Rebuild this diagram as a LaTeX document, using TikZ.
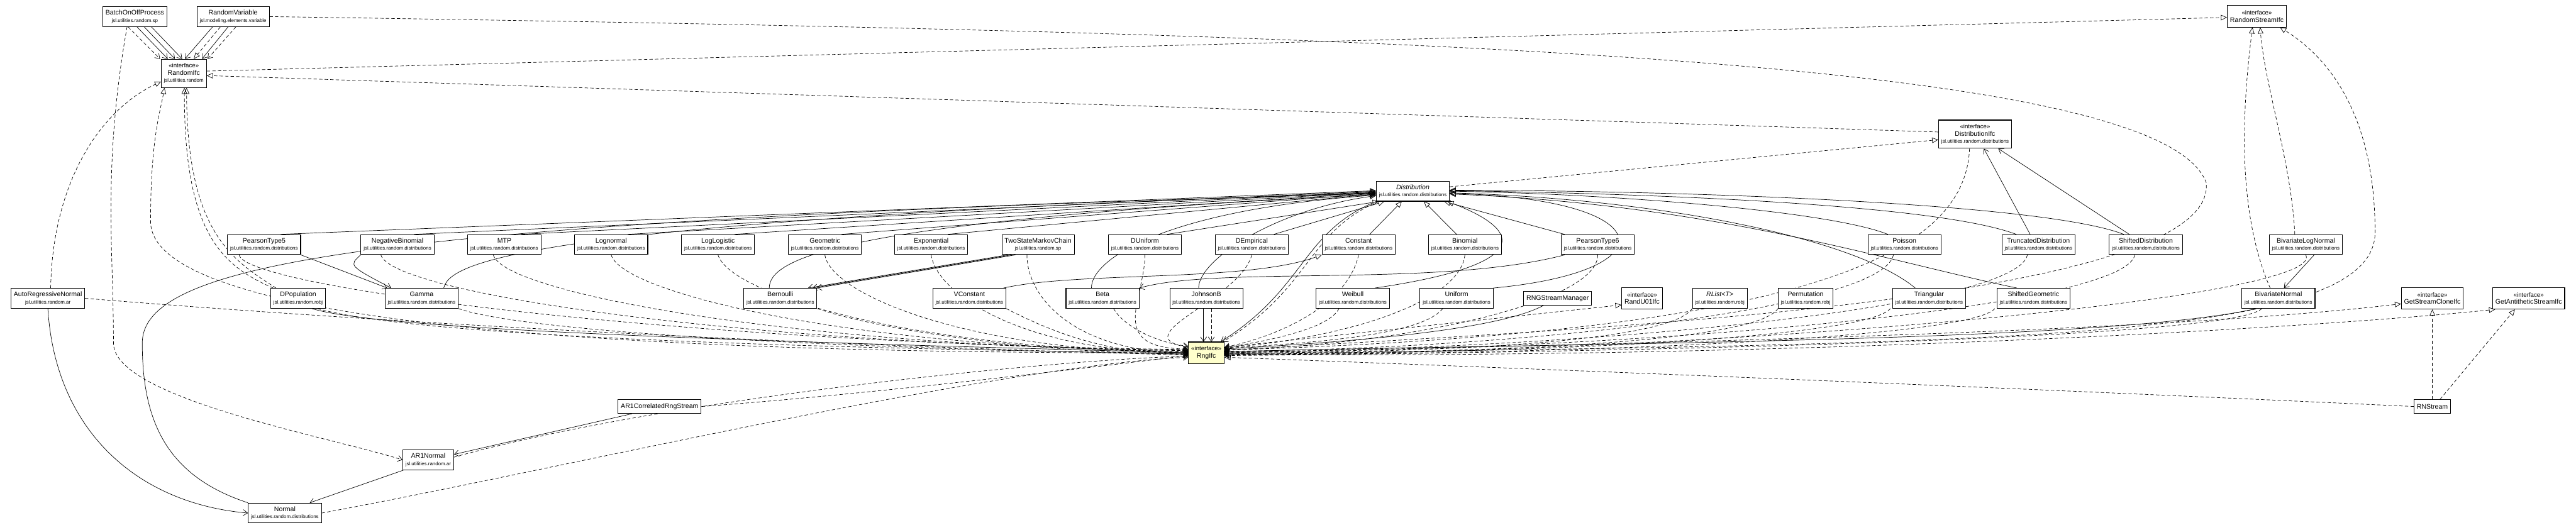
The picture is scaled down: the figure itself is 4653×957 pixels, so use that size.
\documentclass[tikz,border=0pt]{standalone}
\usepackage{fontspec}
\setmainfont{Liberation Sans}
\usepackage{tikz}
\usetikzlibrary{arrows.meta,backgrounds}
\definecolor{focus}{HTML}{FFFFCC}
\newcommand{\pkg}[1]{{\fontsize{9}{10}\selectfont #1}}
\newcommand{\ster}{{\fontsize{11}{12}\selectfont «interface»}}

\begin{document}
\begin{tikzpicture}[
    x=1pt, y=-1pt,
    cls/.style={draw, line width=1.2pt, fill=white, align=center, inner xsep=5pt, inner ysep=2pt, minimum height=36pt, font=\fontsize{12}{13}\selectfont},
    ifc/.style={cls, minimum height=39pt},
    ipkg/.style={cls, minimum height=51pt},
    gen/.style={-{Triangle[open, length=11pt, width=10pt]}, line width=.8pt},
    real/.style={gen, dash pattern=on 6pt off 4pt},
    dep/.style={-{Straight Barb[length=8pt, width=11pt]}, line width=.8pt, dash pattern=on 6pt off 4pt},
    assoc/.style={-{Straight Barb[length=8pt, width=11pt]}, line width=.8pt}
  ]
    \useasboundingbox (0,0) rectangle (4653,957);

    \node[cls] (bop) at (243.5,30) {BatchOnOffProcess\\\pkg{jsl.utilities.random.sp}};
    \node[cls] (rv) at (421,30) {RandomVariable\\\pkg{jsl.modeling.elements.variable}};
    \node[ipkg] (rifc) at (332,132.5) {\ster\\RandomIfc\\\pkg{jsl.utilities.random}};
    \node[ifc] (rsifc) at (4076.5,29.5) {\ster\\RandomStreamIfc};
    \node[ipkg] (difc) at (3567.5,242.5) {\ster\\DistributionIfc\\\pkg{jsl.utilities.random.distributions}};
    \node[cls] (dist) at (2552,345.5) {\textit{Distribution}\\\pkg{jsl.utilities.random.distributions}};

    \node[cls] (pt5) at (477,442) {PearsonType5\\\pkg{jsl.utilities.random.distributions}};
    \node[cls] (negbin) at (718,442) {NegativeBinomial\\\pkg{jsl.utilities.random.distributions}};
    \node[cls] (mtp) at (911,442) {MTP\\\pkg{jsl.utilities.random.distributions}};
    \node[cls] (lognorm) at (1104,442) {Lognormal\\\pkg{jsl.utilities.random.distributions}};
    \node[cls] (loglog) at (1297,442) {LogLogistic\\\pkg{jsl.utilities.random.distributions}};
    \node[cls] (geom) at (1490,442) {Geometric\\\pkg{jsl.utilities.random.distributions}};
    \node[cls] (expo) at (1682,442) {Exponential\\\pkg{jsl.utilities.random.distributions}};
    \node[cls] (twostate) at (1875,442) {TwoStateMarkovChain\\\pkg{jsl.utilities.random.sp}};
    \node[cls] (duni) at (2068,442) {DUniform\\\pkg{jsl.utilities.random.distributions}};
    \node[cls] (demp) at (2261,442) {DEmpirical\\\pkg{jsl.utilities.random.distributions}};
    \node[cls] (const) at (2454,442) {Constant\\\pkg{jsl.utilities.random.distributions}};
    \node[cls] (binom) at (2646,442) {Binomial\\\pkg{jsl.utilities.random.distributions}};
    \node[cls] (pt6) at (2886,442) {PearsonType6\\\pkg{jsl.utilities.random.distributions}};
    \node[cls] (poisson) at (3440,442) {Poisson\\\pkg{jsl.utilities.random.distributions}};
    \node[cls] (trunc) at (3682,442) {TruncatedDistribution\\\pkg{jsl.utilities.random.distributions}};
    \node[cls] (shifted) at (3876,442) {ShiftedDistribution\\\pkg{jsl.utilities.random.distributions}};
    \node[cls] (bilognorm) at (4165,442) {BivariateLogNormal\\\pkg{jsl.utilities.random.distributions}};

    \node[cls] (arn) at (86.5,539) {AutoRegressiveNormal\\\pkg{jsl.utilities.random.ar}};
    \node[cls] (dpop) at (538.5,539) {DPopulation\\\pkg{jsl.utilities.random.robj}};
    \node[cls] (gamma) at (761.5,539) {Gamma\\\pkg{jsl.utilities.random.distributions}};
    \node[cls] (bern) at (1409.5,539) {Bernoulli\\\pkg{jsl.utilities.random.distributions}};
    \node[cls] (vconst) at (1751,539) {VConstant\\\pkg{jsl.utilities.random.distributions}};
    \node[cls] (beta) at (1991.5,539) {Beta\\\pkg{jsl.utilities.random.distributions}};
    \node[cls] (johnson) at (2179,539) {JohnsonB\\\pkg{jsl.utilities.random.distributions}};
    \node[cls] (weibull) at (2443.5,539) {Weibull\\\pkg{jsl.utilities.random.distributions}};
    \node[cls] (unif) at (2631,539) {Uniform\\\pkg{jsl.utilities.random.distributions}};
    \node[cls, minimum height=24pt] (rngsm) at (2813.5,539) {RNGStreamManager};
    \node[ifc] (randu) at (2966,539) {\ster\\RandU01Ifc};
    \node[cls] (rlist) at (3106.5,539) {\textit{RList<T>}\\\pkg{jsl.utilities.random.robj}};
    \node[cls] (perm) at (3261.5,539) {Permutation\\\pkg{jsl.utilities.random.robj}};
    \node[cls] (tri) at (3484.5,539) {Triangular\\\pkg{jsl.utilities.random.distributions}};
    \node[cls] (shgeom) at (3673,539) {ShiftedGeometric\\\pkg{jsl.utilities.random.distributions}};
    \node[cls] (binorm) at (4115.5,539) {BivariateNormal\\\pkg{jsl.utilities.random.distributions}};
    \node[ifc] (clone) at (4393.5,539) {\ster\\GetStreamCloneIfc};
    \node[ifc] (anti) at (4567.5,539) {\ster\\GetAntitheticStreamIfc};

    \node[ifc, fill=focus] (rng) at (2179,637.5) {\ster\\RngIfc};
    \node[cls, minimum height=25pt] (ar1c) at (1191.5,734.5) {AR1CorrelatedRngStream};
    \node[cls] (ar1n) at (773.5,831) {AR1Normal\\\pkg{jsl.utilities.random.ar}};
    \node[cls] (normal) at (514.5,927) {Normal\\\pkg{jsl.utilities.random.distributions}};
    \node[cls, minimum height=25pt] (rnstream) at (4393.5,734.5) {RNStream};

    \begin{scope}[on background layer]
    \draw[dep] ([xshift=-12pt]bop.south) -- ([xshift=-43pt]rifc.north);
    \draw[assoc] ([xshift=4pt]bop.south) -- ([xshift=-29pt]rifc.north);
    \draw[assoc] ([xshift=17pt]bop.south) -- ([xshift=-16pt]rifc.north);
    \draw[assoc] ([xshift=30pt]bop.south) -- ([xshift=-3pt]rifc.north);
    \draw[assoc] ([xshift=-37pt]rv.south) -- ([xshift=2pt]rifc.north);
    \draw[real] ([xshift=-23pt]rv.south) -- ([xshift=18pt]rifc.north);
    \draw[assoc] ([xshift=-9pt]rv.south) -- ([xshift=33pt]rifc.north);
    \draw[dep] ([xshift=5pt]rv.south) -- ([xshift=43pt]rifc.north);
    \draw[dep] ([xshift=-14pt]bop.south) .. controls (185,300) and (205,450) .. (205,620) .. controls (205,720) and (600,790) .. (ar1n.west);
    \draw[real] ([xshift=5pt]arn.north) .. controls (95,330) and (180,200) .. ([yshift=-15pt]rifc.west);
    \draw[real] ([xshift=-45pt]dpop.north) .. controls (400,480) and (333,420) .. ([xshift=1pt]rifc.south);
    \draw[real] ([xshift=-40pt]dpop.north) .. controls (420,470) and (338,420) .. ([xshift=5pt]rifc.south);
    \draw[real] (rng.west) .. controls (900,640) and (272,560) .. (272,400) .. controls (272,250) and (290,200) .. ([xshift=-35pt]rifc.south);

    \draw[real] ([yshift=4pt]rifc.east) -- ([yshift=-2pt]rsifc.west);
    \draw[real] ([yshift=4pt]difc.west) -- ([yshift=-4pt]rifc.east);
    \draw[real] ([yshift=8pt]dist.east) -- ([yshift=-10pt]difc.west);
    \draw[assoc] ([xshift=-15pt]trunc.north) -- ([xshift=16pt]difc.south);
    \draw[assoc] ([xshift=-30pt]shifted.north) -- ([xshift=42pt]difc.south);
    \draw[dep] (rv.east) .. controls (2500,60) and (3900,100) .. (3985,330) .. controls (4010,560) and (2700,600) .. ([yshift=4pt]rng.east);

    \draw[real] ([xshift=-15pt]binorm.north) .. controls (4040,380) and (4050,200) .. ([xshift=-8pt]rsifc.south);
    \draw[real] ([xshift=-20pt]bilognorm.north) .. controls (4140,300) and (4090,150) .. ([xshift=6pt]rsifc.south);
    \draw[real] ([yshift=-2pt]rng.east) .. controls (3600,620) and (4290,620) .. (4290,420) .. controls (4290,200) and (4200,100) .. ([xshift=-12pt]rsifc.south east);
    \draw[real] (rnstream.north) -- (clone.south);
    \draw[real] ([xshift=14pt]rnstream.north) -- ([xshift=-25pt]anti.south);
    \draw[real] (rnstream.west) .. controls (3400,690) and (2600,660) .. ([yshift=-8pt]rng.east);
    \draw[real] ([yshift=10pt]rng.east) -- ([yshift=-12pt]randu.west);
    \draw[real] (rng.east) .. controls (3000,620) and (3900,600) .. ([yshift=-10pt]clone.west);
    \draw[real] ([yshift=-2pt]rng.east) .. controls (3100,650) and (4100,600) .. ([xshift=5pt]anti.south west);
    \draw[assoc] ([xshift=-25pt]rngsm.south) .. controls (2700,600) and (2400,620) .. ([yshift=7pt]rng.east);

    \draw[assoc] (dist.south west) .. controls (2350,420) and (2360,520) .. ([xshift=26pt]rng.north);
    \draw[dep] ([xshift=4pt]dist.south west) .. controls (2360,420) and (2370,520) .. ([xshift=30pt]rng.north);
    \draw[dep] ([xshift=-10pt]difc.south) .. controls (3550,450) and (3300,600) .. ([yshift=5pt]rng.east);

    \draw[gen] ([xshift=30pt]pt5.north) -- ([yshift=1pt]dist.west);
    \draw[gen] ([xshift=30pt]negbin.north) -- ([yshift=0pt]dist.west);
    \draw[gen] ([xshift=30pt]mtp.north) -- ([yshift=-1pt]dist.west);
    \draw[gen] ([xshift=30pt]lognorm.north) -- ([yshift=-2pt]dist.west);
    \draw[gen] ([xshift=30pt]loglog.north) -- ([yshift=-3pt]dist.west);
    \draw[gen] ([xshift=30pt]geom.north) -- ([yshift=-4pt]dist.west);
    \draw[gen] ([xshift=30pt]expo.north) -- ([yshift=-5pt]dist.west);
    \draw[gen] ([xshift=40pt]gamma.north) .. controls (812,480) and (900,400) .. ([yshift=-3pt]dist.west);
    \draw[gen] (normal.north west) .. controls (300,860) and (257,760) .. (257,620) .. controls (257,470) and (700,400) .. ([yshift=-4pt]dist.west);
    \draw[gen] ([xshift=-20pt]bern.north) .. controls (1390,470) and (1500,400) .. ([yshift=-6pt]dist.west);
    \draw[gen] ([xshift=-20pt]beta.north) .. controls (1970,470) and (2100,380) .. ([yshift=-7pt]dist.west);
    \draw[gen] ([xshift=-14pt]johnson.north) .. controls (2165,470) and (2300,380) .. ([yshift=-8pt]dist.west);
    \draw[gen] ([xshift=40pt]duni.north) -- ([xshift=5pt]dist.south west);
    \draw[gen] ([xshift=40pt]demp.north) -- ([xshift=15pt]dist.south west);
    \draw[gen] ([xshift=20pt]const.north) -- ([xshift=-20pt]dist.south);
    \draw[gen] ([xshift=-15pt]binom.north) -- ([xshift=20pt]dist.south);
    \draw[gen] ([xshift=-60pt]pt6.north) -- ([xshift=-10pt]dist.south east);
    \draw[gen] ([xshift=40pt]weibull.north) .. controls (2760,480) and (2760,420) .. ([xshift=-4pt]dist.south east);
    \draw[gen] (unif.north east) .. controls (3020,490) and (3000,360) .. ([yshift=-4pt]dist.east);
    \draw[gen] ([xshift=-30pt]poisson.north) .. controls (3300,380) and (2900,350) .. (dist.east);
    \draw[gen] ([xshift=-40pt]trunc.north) .. controls (3500,370) and (3000,350) .. ([yshift=1pt]dist.east);
    \draw[gen] ([xshift=-40pt]shifted.north) .. controls (3700,370) and (3100,345) .. ([yshift=2pt]dist.east);
    \draw[gen] ([xshift=-25pt]tri.north) .. controls (3350,430) and (3000,360) .. ([yshift=-3pt]dist.east);
    \draw[gen] ([xshift=-30pt]shgeom.north) .. controls (3400,470) and (3100,370) .. ([yshift=-5pt]dist.east);
    \draw[gen] ([xshift=-5pt]vconst.north east) .. controls (1950,490) and (2250,510) .. (const.south west);

    \draw[assoc] (pt5.south east) -- ([xshift=-62pt]gamma.north);
    \draw[assoc] (negbin.south west) .. controls (630,480) .. ([xshift=-55pt]gamma.north);
    \draw[assoc] ([xshift=-55pt]twostate.south) -- ([xshift=50pt]bern.north);
    \draw[assoc] ([xshift=-48pt]twostate.south) -- ([xshift=58pt]bern.north);
    \draw[assoc] ([xshift=-41pt]twostate.south) -- ([xshift=66pt]bern.north);
    \draw[assoc] ([xshift=-60pt]pt6.south) .. controls (2600,520) and (2200,480) .. (beta.north east);
    \draw[assoc] ([xshift=15pt]bilognorm.south) -- ([xshift=10pt]binorm.north);
    \draw[assoc] ([xshift=-50pt]ar1c.south) -- ([yshift=10pt]ar1n.east);
    \draw[assoc] ([xshift=-45pt]ar1n.south) -- ([xshift=45pt]normal.north);
    \draw[assoc] (arn.south) .. controls (100,780) and (250,910) .. (normal.west);
    \draw[assoc] ([xshift=-5pt]johnson.south) -- ([xshift=-5pt]rng.north);
    \draw[dep] ([xshift=9pt]johnson.south) -- ([xshift=9pt]rng.north);
    \draw[assoc] ([xshift=25pt]dpop.south) .. controls (700,600) and (1500,620) .. (rng.west);
    \draw[assoc] ([xshift=-40pt]binorm.south) .. controls (3800,620) and (2800,620) .. ([yshift=2pt]rng.east);

    \draw[dep] ([xshift=-45pt]pt5.south) .. controls +(10,60) and +(-900,-10) .. ([yshift=6pt]rng.west);
    \draw[dep] ([xshift=-30pt]negbin.south) .. controls +(20,70) and +(-800,-8) .. ([yshift=5pt]rng.west);
    \draw[dep] ([xshift=-20pt]mtp.south) .. controls +(20,70) and +(-700,-6) .. ([yshift=4pt]rng.west);
    \draw[dep] (lognorm.south) .. controls +(20,70) and +(-600,-4) .. ([yshift=3pt]rng.west);
    \draw[dep] (loglog.south) .. controls +(20,70) and +(-500,-2) .. ([yshift=2pt]rng.west);
    \draw[dep] (geom.south) .. controls +(10,70) and +(-400,0) .. ([yshift=1pt]rng.west);
    \draw[dep] (expo.south) .. controls +(10,70) and +(-300,0) .. (rng.west);
    \draw[dep] ([xshift=-20pt]twostate.south) .. controls +(0,80) and +(-200,0) .. (rng.west);
    \draw[dep] (duni.south) .. controls +(0,80) and +(-150,0) .. ([yshift=7pt]rng.west);
    \draw[dep] (demp.south) .. controls +(-20,80) and +(-120,-20) .. ([yshift=10pt]rng.west);
    \draw[dep] ([xshift=35pt]dpop.south) .. controls (760,610) and (1500,630) .. ([yshift=-1pt]rng.west);
    \draw[dep] (gamma.south east) .. controls (950,600) and (1500,630) .. ([yshift=-2pt]rng.west);
    \draw[dep] (bern.south east) .. controls (1600,600) and (1900,640) .. ([yshift=-2pt]rng.west);
    \draw[dep] (vconst.south east) .. controls (1900,600) and (2000,640) .. ([yshift=-3pt]rng.west);
    \draw[dep] ([xshift=20pt]beta.south) .. controls (2030,590) and (2090,620) .. ([yshift=12pt]rng.west);
    \draw[dep] (arn.east) .. controls (900,600) and (1700,630) .. ([yshift=-4pt]rng.west);
    \draw[dep] (normal.east) .. controls (1000,850) and (1800,660) .. ([yshift=-8pt]rng.west);
    \draw[dep] ([yshift=5pt]ar1n.east) .. controls (1200,720) and (1900,650) .. ([yshift=-6pt]rng.west);
    \draw[dep] (ar1c.east) .. controls (1600,710) and (2000,660) .. ([yshift=-5pt]rng.west);

    \draw[dep] ([xshift=-25pt]weibull.south) .. controls +(-20,40) and +(60,-10) .. ([yshift=9pt]rng.east);
    \draw[dep] ([xshift=-25pt]unif.south) .. controls +(-40,50) and +(150,-10) .. ([yshift=8pt]rng.east);
    \draw[dep] (const.south) .. controls +(-20,90) and +(100,-20) .. ([yshift=10pt]rng.east);
    \draw[dep] (binom.south) .. controls +(-10,90) and +(200,-15) .. ([yshift=9pt]rng.east);
    \draw[dep] (pt6.south) .. controls +(0,90) and +(300,-5) .. ([yshift=6pt]rng.east);
    \draw[dep] ([xshift=-20pt]poisson.south) .. controls +(-20,100) and +(500,-2) .. ([yshift=3pt]rng.east);
    \draw[dep] ([xshift=-20pt]trunc.south) .. controls +(-20,100) and +(600,-2) .. ([yshift=2pt]rng.east);
    \draw[dep] ([xshift=-20pt]shifted.south) .. controls +(-20,100) and +(700,-2) .. ([yshift=1pt]rng.east);
    \draw[dep] ([xshift=-50pt]rlist.south) .. controls +(-40,60) and +(400,0) .. (rng.east);
    \draw[dep] ([xshift=-50pt]perm.south) .. controls +(-40,60) and +(500,0) .. ([yshift=-1pt]rng.east);
    \draw[dep] ([xshift=-70pt]tri.south) .. controls +(-40,50) and +(600,0) .. ([yshift=-2pt]rng.east);
    \draw[dep] ([xshift=-70pt]shgeom.south) .. controls +(-40,50) and +(700,0) .. ([yshift=-3pt]rng.east);
    \draw[dep] (bilognorm.south) .. controls +(40,80) and +(900,-5) .. ([yshift=-4pt]rng.east);
    \draw[dep] ([xshift=-30pt]binorm.south) .. controls +(-50,50) and +(900,-8) .. ([yshift=-5pt]rng.east);
    \end{scope}
  \end{tikzpicture}
\end{document}
